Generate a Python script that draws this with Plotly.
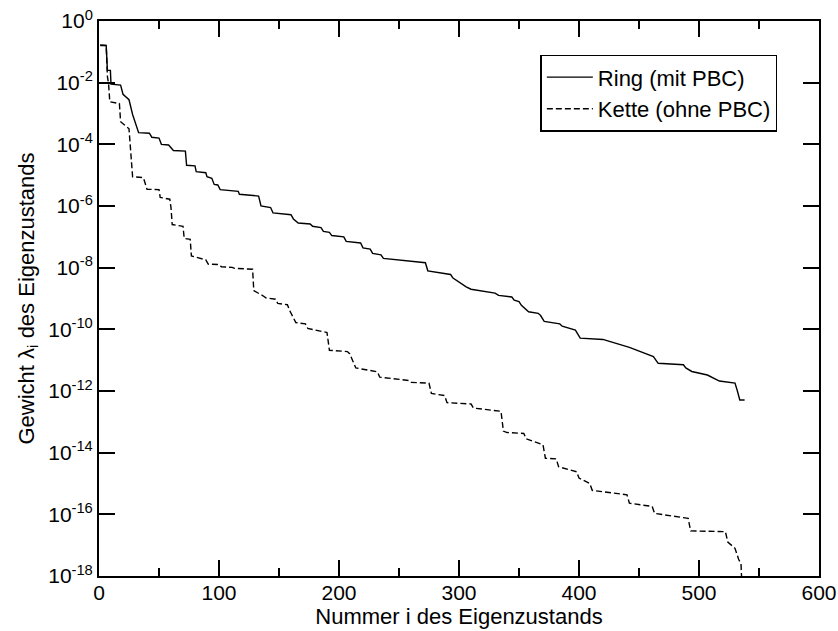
import plotly.graph_objects as go

# Ring (mit PBC) - periodic boundary conditions
ring_x = [1, 6, 7, 9.5, 10, 18, 20, 25, 28, 30, 33, 42, 44, 50, 52, 58, 60, 62, 72, 73, 80, 81, 89, 90,
          94, 96, 99, 101, 116, 117, 133, 135, 143, 145, 160, 162, 166, 176, 178, 185, 187, 192, 194,
          204, 206, 218, 220, 226, 228, 235, 237, 272, 274, 293, 295, 298, 306, 310, 330, 333, 344,
          346, 350, 352, 356, 358, 366, 368, 371, 384, 386, 397, 401, 420, 424, 442, 462, 466, 487,
          489, 494, 507, 517, 530, 532, 534, 538]
ring_y = [1.6e-1, 1.6e-1, 2.5e-2, 2.5e-2, 8.9e-3, 8.3e-3, 4.2e-3, 2.8e-3, 9.3e-4, 5.0e-4, 2.4e-4,
          2.3e-4, 1.7e-4, 1.6e-4, 1.0e-4, 9.5e-5, 7.9e-5, 6.3e-5, 6.0e-5, 2.1e-5, 2.0e-5, 1.3e-5,
          1.2e-5, 8.9e-6, 7.9e-6, 5.0e-6, 4.8e-6, 3.4e-6, 3.0e-6, 2.4e-6, 2.1e-6, 1.0e-6, 8.9e-7,
          6.0e-7, 5.2e-7, 3.8e-7, 2.8e-7, 2.6e-7, 2.2e-7, 2.0e-7, 1.5e-7, 1.4e-7, 1.1e-7, 1.0e-7,
          7.1e-8, 6.3e-8, 4.4e-8, 4.0e-8, 2.9e-8, 2.6e-8, 2.0e-8, 1.45e-8, 7.9e-9, 6.0e-9, 4.6e-9,
          3.8e-9, 2.4e-9, 2.0e-9, 1.5e-9, 1.26e-9, 1.12e-9, 8.9e-10, 7.9e-10, 6.0e-10, 4.5e-10,
          3.7e-10, 3.3e-10, 2.8e-10, 1.8e-10, 1.5e-10, 1.26e-10, 9.5e-11, 5.2e-11, 4.7e-11, 4.2e-11,
          2.6e-11, 1.3e-11, 7.9e-12, 7.1e-12, 5.6e-12, 4.3e-12, 3.3e-12, 2.1e-12, 1.8e-12, 1.0e-12,
          5.1e-13, 5.1e-13]

# Kette (ohne PBC) - open boundary conditions
kette_x = [1, 6, 7, 8, 9, 17, 18, 24, 25, 28, 37, 40, 50, 51, 59, 60, 61, 70, 71, 76, 77, 89, 91, 100,
           102, 111, 113, 128, 129, 137, 139, 147, 149, 157, 159, 164, 172, 174, 190, 192, 207, 209,
           214, 232, 234, 258, 260, 275, 277, 288, 290, 310, 312, 335, 337, 340, 354, 356, 370, 372,
           381, 383, 398, 400, 409, 411, 440, 442, 461, 463, 489, 491, 493, 522, 524, 530, 533, 535, 536]
kette_y = [1.66e-1, 1.6e-1, 1.6e-2, 8.9e-3, 2.4e-3, 2.1e-3, 5.4e-4, 3.4e-4, 3.2e-4, 8.9e-6, 8.3e-6,
           3.5e-6, 3.4e-6, 1.9e-6, 1.66e-6, 8.9e-7, 2.5e-7, 2.2e-7, 8.9e-8, 8.3e-8, 2.4e-8, 1.8e-8,
           1.3e-8, 1.26e-8, 1.07e-8, 1.02e-8, 9.5e-9, 8.9e-9, 1.8e-9, 1.2e-9, 1.05e-9, 9.5e-10,
           6.9e-10, 6.3e-10, 4.0e-10, 1.66e-10, 1.5e-10, 1.07e-10, 7.9e-11, 2.1e-11, 1.9e-11,
           1.6e-11, 5.6e-12, 4.2e-12, 2.8e-12, 2.2e-12, 1.9e-12, 1.8e-12, 8.3e-13, 7.1e-13, 4.2e-13,
           3.8e-13, 2.8e-13, 2.2e-13, 5.0e-14, 4.5e-14, 4.2e-14, 2.8e-14, 1.8e-14, 6.6e-15, 6.3e-15,
           3.5e-15, 2.4e-15, 1.5e-15, 1.0e-15, 6.0e-16, 4.3e-16, 2.3e-16, 1.8e-16, 1.07e-16,
           7.9e-17, 7.4e-17, 2.9e-17, 2.75e-17, 1.26e-17, 7.9e-18, 3.5e-18, 2.5e-18, 3.0e-19]

y_tickvals = [1e0, 1e-2, 1e-4, 1e-6, 1e-8, 1e-10, 1e-12, 1e-14, 1e-16, 1e-18]
y_ticktext = ["10<sup>0</sup>", "10<sup>-2</sup>", "10<sup>-4</sup>", "10<sup>-6</sup>",
              "10<sup>-8</sup>", "10<sup>-10</sup>", "10<sup>-12</sup>", "10<sup>-14</sup>",
              "10<sup>-16</sup>", "10<sup>-18</sup>"]
x_tickvals = [0, 100, 200, 300, 400, 500, 600]

FONT = "Liberation Sans, Arial, sans-serif"
FS = 22
TFS = 21

fig = go.Figure()
fig.add_trace(go.Scatter(x=ring_x, y=ring_y, mode="lines", name="Ring (mit PBC)",
                         line=dict(color="black", width=1.4)))
fig.add_trace(go.Scatter(x=kette_x, y=kette_y, mode="lines", name="Kette (ohne PBC)",
                         line=dict(color="black", width=1.4, dash="6px,3px")))

fig.update_layout(
    width=838, height=631,
    margin=dict(l=99, r=19, t=21, b=55, autoexpand=False),
    paper_bgcolor="white", plot_bgcolor="white",
    font=dict(family=FONT, size=FS, color="black"),
    showlegend=True,
    legend=dict(x=0.613, y=0.939, xanchor="left", yanchor="top",
                bordercolor="black", borderwidth=1.5, bgcolor="white",
                font=dict(family=FONT, size=FS, color="black"),
                itemwidth=46, tracegroupgap=0),
    annotations=[dict(text="Gewicht λ<sub>i</sub> des Eigenzustands", textangle=-90,
                      xref="paper", yref="paper", x=-72 / 720, y=0.5,
                      xanchor="center", yanchor="middle", showarrow=False,
                      font=dict(family=FONT, size=FS, color="black"))],
)
fig.update_xaxes(
    range=[0, 600], tickvals=x_tickvals, ticks="inside", ticklen=16, tickwidth=1.5,
    tickcolor="black", showline=True, linecolor="black", linewidth=2, mirror="ticks",
    showgrid=False, zeroline=False, automargin=False, ticklabelstandoff=-3,
    minor=dict(ticks="inside", ticklen=8, tickwidth=1.5, tickcolor="black", dtick=50, tick0=0,
               showgrid=False),
    title=dict(text="Nummer i des Eigenzustands", standoff=1, font=dict(size=FS)),
    tickfont=dict(size=TFS),
)
fig.update_yaxes(
    type="log", range=[-18, 0], tickvals=y_tickvals, ticktext=y_ticktext,
    ticks="inside", ticklen=16, tickwidth=1.5, tickcolor="black",
    showline=True, linecolor="black", linewidth=2, mirror="ticks",
    showgrid=False, zeroline=False, automargin=False, ticklabelstandoff=0,
    tickfont=dict(size=TFS),
)

# remove the default 8px page-body margin so the figure sits at the page's top-left corner
fig.write_html("out.html", config={"displayModeBar": False},
               post_script="document.body.style.margin='0px';")
